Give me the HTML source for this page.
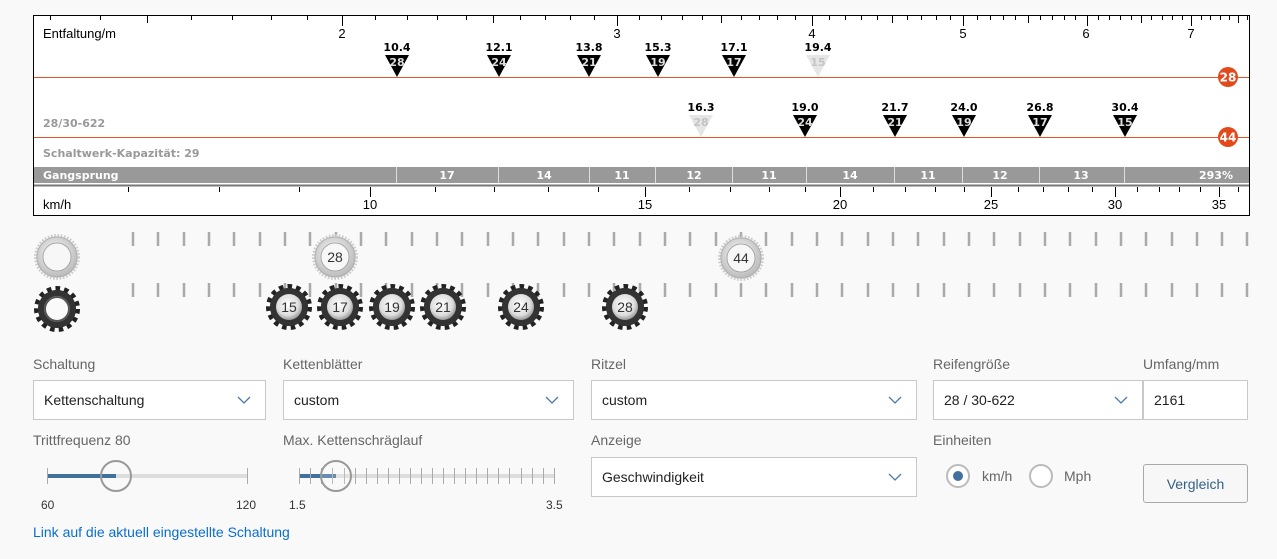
<!DOCTYPE html>
<html><head><meta charset="utf-8">
<style>
body{margin:0;background:#f9f9f9;width:1277px;height:559px;overflow:hidden;font-family:"Liberation Sans",sans-serif}
.a{position:absolute}
.lbl{position:absolute;font-size:14px;color:#666}
.sel{position:absolute;background:#fff;border:1px solid #c8c8c8;box-sizing:border-box;height:40px;font-size:14px;color:#222;line-height:38px;padding-left:10px}
.sel svg{position:absolute;right:14px;top:14px}
</style></head><body>
<svg class="a" style="left:0;top:0" width="1277" height="340" font-family="DejaVu Sans, sans-serif">
<defs>
<radialGradient id="gc" cx="45%" cy="40%" r="60%"><stop offset="0" stop-color="#fff"/><stop offset="0.7" stop-color="#ddd"/><stop offset="1" stop-color="#999"/></radialGradient>
<radialGradient id="gs" cx="45%" cy="40%" r="60%"><stop offset="0" stop-color="#fafafa"/><stop offset="1" stop-color="#bbb"/></radialGradient>
<g id="cog"><circle r="19" fill="#222" stroke="#222" stroke-width="8" stroke-dasharray="4.2 3.8"/><circle r="19" fill="#333"/><circle r="13" fill="url(#gc)"/></g>
<g id="ring"><circle r="21" fill="#ddd" stroke="#ccc" stroke-width="4" stroke-dasharray="1.6 1.6"/><circle r="20" fill="url(#gs)" stroke="#aaa" stroke-width="0.8"/><circle r="14" fill="#f7f7f7" stroke="#999" stroke-width="0.8"/></g>
<g id="tri"><path d="M-12 0 H12 L0 22Z"/></g>
</defs>
<rect x="33.5" y="15.5" width="1216" height="200" fill="#fff" stroke="#000"/>
<path stroke="#000" stroke-width="1" fill="none" d="M50.5 15v5M100.5 15v5M147.5 15v8M191.5 15v5M232.5 15v5M271.5 15v5M307.5 15v5M342.5 15v11M375.5 15v5M407.5 15v5M437.5 15v5M466.5 15v5M493.5 15v8M520.5 15v5M545.5 15v5M570.5 15v5M594.5 15v5M617.5 15v11M639.5 15v5M661.5 15v5M682.5 15v5M702.5 15v5M721.5 15v8M741.5 15v5M759.5 15v5M777.5 15v5M795.5 15v5M812.5 15v11M829.5 15v5M845.5 15v5M861.5 15v5M877.5 15v5M892.5 15v8M907.5 15v5M921.5 15v5M936.5 15v5M950.5 15v5M963.5 15v11M977.5 15v5M990.5 15v5M1003.5 15v5M1015.5 15v5M1028.5 15v8M1040.5 15v5M1052.5 15v5M1064.5 15v5M1075.5 15v5M1087.5 15v11M1098.5 15v5M1109.5 15v5M1120.5 15v5M1131.5 15v5M1141.5 15v8M1151.5 15v5M1162.5 15v5M1172.5 15v5M1182.5 15v5M1191.5 15v11M1201.5 15v5M1210.5 15v5M1220.5 15v5M1229.5 15v5M1238.5 15v8M1247.5 15v5"/>
<g font-family="Liberation Sans, sans-serif" font-size="13" fill="#000" text-anchor="middle">
<text x="43" y="38" text-anchor="start">Entfaltung/m</text>
<text x="342" y="38">2</text><text x="617" y="38">3</text><text x="812" y="38">4</text><text x="963" y="38">5</text><text x="1086" y="38">6</text><text x="1191" y="38">7</text>
</g>
<line x1="34" y1="77.5" x2="1249" y2="77.5" stroke="#e0552c"/>
<line x1="34" y1="137.5" x2="1249" y2="137.5" stroke="#e0552c"/>
<g font-size="11" font-weight="bold" text-anchor="middle">
<g fill="#000">
<text x="397" y="51">10.4</text><use href="#tri" x="397" y="55"/>
<text x="499" y="51">12.1</text><use href="#tri" x="499" y="55"/>
<text x="589" y="51">13.8</text><use href="#tri" x="589" y="55"/>
<text x="658" y="51">15.3</text><use href="#tri" x="658" y="55"/>
<text x="734" y="51">17.1</text><use href="#tri" x="734" y="55"/>
<text x="818" y="51">19.4</text>
<text x="701" y="111">16.3</text>
<text x="805" y="111">19.0</text><use href="#tri" x="805" y="115"/>
<text x="895" y="111">21.7</text><use href="#tri" x="895" y="115"/>
<text x="964" y="111">24.0</text><use href="#tri" x="964" y="115"/>
<text x="1040" y="111">26.8</text><use href="#tri" x="1040" y="115"/>
<text x="1125" y="111">30.4</text><use href="#tri" x="1125" y="115"/>
</g>
<g fill="#e6e6e6"><use href="#tri" x="818" y="55"/><use href="#tri" x="701" y="115"/></g>
<g fill="#ddd" font-size="11">
<text x="397" y="66">28</text><text x="499" y="66">24</text><text x="589" y="66">21</text><text x="658" y="66">19</text><text x="734" y="66">17</text>
<text x="805" y="126">24</text><text x="895" y="126">21</text><text x="964" y="126">19</text><text x="1040" y="126">17</text><text x="1125" y="126">15</text>
</g>
<g fill="#c4c4c4" font-size="11"><text x="818" y="66">15</text><text x="701" y="126">28</text></g>
</g>
<circle cx="1228" cy="77" r="10" fill="#e24a1c"/><text x="1228" y="81.5" fill="#fff" font-size="12" font-weight="bold" text-anchor="middle">28</text>
<circle cx="1228" cy="137" r="10" fill="#e24a1c"/><text x="1228" y="141.5" fill="#fff" font-size="12" font-weight="bold" text-anchor="middle">44</text>
<g fill="#999" font-size="11" font-weight="bold">
<text x="43" y="127">28/30-622</text>
<text x="43" y="157">Schaltwerk-Kapazität: 29</text>
</g>
<rect x="34" y="167" width="1215" height="16" fill="#999"/>
<line x1="34" y1="185.5" x2="1249" y2="185.5" stroke="#777" stroke-width="2"/>
<path stroke="#ddd" d="M396.5 167v16M498.5 167v16M589.5 167v16M655.5 167v16M732.5 167v16M806.5 167v16M894.5 167v16M962.5 167v16M1039.5 167v16M1124.5 167v16"/>
<g fill="#fff" font-size="11" font-weight="bold" text-anchor="middle">
<text x="43" y="179" text-anchor="start">Gangsprung</text>
<text x="447" y="179">17</text><text x="544" y="179">14</text><text x="622" y="179">11</text><text x="694" y="179">12</text><text x="769" y="179">11</text><text x="850" y="179">14</text><text x="928" y="179">11</text><text x="1000" y="179">12</text><text x="1081" y="179">13</text><text x="1216" y="179">293%</text>
</g>
<path stroke="#000" fill="none" d="M128.5 187v5M219.5 187v5M299.5 187v5M370.5 187v10M435.5 187v5M494.5 187v5M548.5 187v5M598.5 187v5M645.5 187v10M689.5 187v5M730.5 187v5M769.5 187v5M805.5 187v5M840.5 187v10M873.5 187v5M905.5 187v5M935.5 187v5M964.5 187v5M991.5 187v10M1018.5 187v5M1043.5 187v5M1068.5 187v5M1092.5 187v5M1115.5 187v10M1137.5 187v5M1159.5 187v5M1179.5 187v5M1200.5 187v5M1219.5 187v10M1238.5 187v5"/>
<g font-family="Liberation Sans, sans-serif" font-size="13" text-anchor="middle">
<text x="43" y="209" text-anchor="start">km/h</text>
<text x="370" y="209">10</text><text x="645" y="209">15</text><text x="840" y="209">20</text><text x="991" y="209">25</text><text x="1115" y="209">30</text><text x="1219" y="209">35</text>
</g>
<g stroke="#aaa" stroke-width="2.5">
<path d="M133 232v14M158 232v14M184 232v14M209 232v14M234 232v14M260 232v14M285 232v14M310 232v14M336 232v14M361 232v14M386 232v14M412 232v14M437 232v14M462 232v14M488 232v14M513 232v14M538 232v14M564 232v14M589 232v14M614 232v14M640 232v14M665 232v14M690 232v14M716 232v14M741 232v14M766 232v14M792 232v14M817 232v14M842 232v14M868 232v14M893 232v14M918 232v14M944 232v14M969 232v14M994 232v14M1020 232v14M1045 232v14M1070 232v14M1096 232v14M1121 232v14M1146 232v14M1172 232v14M1197 232v14M1222 232v14M1247 232v14"/>
<path d="M133 283v14M158 283v14M184 283v14M209 283v14M234 283v14M260 283v14M285 283v14M310 283v14M336 283v14M361 283v14M386 283v14M412 283v14M437 283v14M462 283v14M488 283v14M513 283v14M538 283v14M564 283v14M589 283v14M614 283v14M640 283v14M665 283v14M690 283v14M716 283v14M741 283v14M766 283v14M792 283v14M817 283v14M842 283v14M868 283v14M893 283v14M918 283v14M944 283v14M969 283v14M994 283v14M1020 283v14M1045 283v14M1070 283v14M1096 283v14M1121 283v14M1146 283v14M1172 283v14M1197 283v14M1222 283v14M1247 283v14"/>
</g>
<use href="#ring" x="57" y="257"/>
<use href="#ring" x="335" y="257"/>
<use href="#ring" x="741" y="258"/>
<use href="#cog" x="57" y="309"/><circle cx="57" cy="309" r="12" fill="#fafafa" stroke="#555" stroke-width="2"/>
<use href="#cog" x="289" y="307"/><use href="#cog" x="340" y="307"/><use href="#cog" x="392" y="307"/><use href="#cog" x="443" y="307"/><use href="#cog" x="521" y="307"/><use href="#cog" x="625" y="307"/>
<g font-family="Liberation Sans, sans-serif" font-size="14" fill="#333" text-anchor="middle">
<text x="335" y="262">28</text><text x="741" y="263">44</text>
<text x="289" y="312">15</text><text x="340" y="312">17</text><text x="392" y="312">19</text><text x="443" y="312">21</text><text x="521" y="312">24</text><text x="625" y="312">28</text>
</g>
</svg>

<div class="lbl" style="left:33px;top:356px">Schaltung</div>
<div class="lbl" style="left:283px;top:356px">Kettenblätter</div>
<div class="lbl" style="left:591px;top:356px">Ritzel</div>
<div class="lbl" style="left:933px;top:356px">Reifengröße</div>
<div class="lbl" style="left:1143px;top:356px">Umfang/mm</div>
<div class="sel" style="left:33px;top:380px;width:233px">Kettenschaltung<svg width="14" height="10"><path d="M1 2l6 6 6-6" fill="none" stroke="#4a7ab0" stroke-width="1.3"/></svg></div>
<div class="sel" style="left:283px;top:380px;width:291px">custom<svg width="14" height="10"><path d="M1 2l6 6 6-6" fill="none" stroke="#4a7ab0" stroke-width="1.3"/></svg></div>
<div class="sel" style="left:591px;top:380px;width:326px">custom<svg width="14" height="10"><path d="M1 2l6 6 6-6" fill="none" stroke="#4a7ab0" stroke-width="1.3"/></svg></div>
<div class="sel" style="left:933px;top:380px;width:210px">28 / 30-622<svg width="14" height="10"><path d="M1 2l6 6 6-6" fill="none" stroke="#4a7ab0" stroke-width="1.3"/></svg></div>
<div class="sel" style="left:1143px;top:380px;width:105px">2161</div>

<div class="lbl" style="left:33px;top:432px">Trittfrequenz 80</div>
<div class="lbl" style="left:283px;top:432px">Max. Kettenschräglauf</div>
<div class="lbl" style="left:591px;top:432px">Anzeige</div>
<div class="lbl" style="left:933px;top:432px">Einheiten</div>
<div class="sel" style="left:591px;top:457px;width:326px">Geschwindigkeit<svg width="14" height="10"><path d="M1 2l6 6 6-6" fill="none" stroke="#4a7ab0" stroke-width="1.3"/></svg></div>

<svg class="a" style="left:0;top:450px" width="930" height="70" font-family="Liberation Sans, sans-serif">
<rect x="47" y="24" width="200" height="4" fill="#ddd"/>
<rect x="47" y="24" width="69" height="4" fill="#41729f"/>
<path d="M47.5 18v16M247.5 18v16" stroke="#aaa"/>
<circle cx="116" cy="26" r="15" fill="none" stroke="#999" stroke-width="2"/>
<text x="41" y="59" font-size="12" fill="#333">60</text>
<text x="236" y="59" font-size="12" fill="#333">120</text>
<rect x="299" y="24" width="256" height="4" fill="#ddd"/>
<rect x="299" y="24" width="37" height="4" fill="#41729f"/>
<path stroke="#aaa" d="M299.5 18v16M310.5 18v16M321.5 18v16M332.5 18v16M344.5 18v16M355.5 18v16M366.5 18v16M377.5 18v16M388.5 18v16M399.5 18v16M410.5 18v16M421.5 18v16M432.5 18v16M443.5 18v16M454.5 18v16M465.5 18v16M476.5 18v16M487.5 18v16M498.5 18v16M509.5 18v16M521.5 18v16M532.5 18v16M543.5 18v16M554.5 18v16"/>
<circle cx="336" cy="26" r="15" fill="#f9f9f9" fill-opacity="0.2" stroke="#999" stroke-width="2"/>
<text x="289" y="59" font-size="12" fill="#333">1.5</text>
<text x="546" y="59" font-size="12" fill="#333">3.5</text>
</svg>

<svg class="a" style="left:940px;top:460px" width="170" height="35" font-family="Liberation Sans, sans-serif">
<circle cx="18" cy="16" r="11" fill="#fff" stroke="#bbb" stroke-width="2"/>
<circle cx="18" cy="16" r="5" fill="#41729f"/>
<text x="42" y="21" font-size="14" fill="#666">km/h</text>
<circle cx="101" cy="16" r="11" fill="#fff" stroke="#bbb" stroke-width="2"/>
<text x="124" y="21" font-size="14" fill="#666">Mph</text>
</svg>
<div class="a" style="left:1143px;top:464px;width:105px;height:39px;box-sizing:border-box;border:1px solid #aaa;border-radius:3px;background:#f7f7f7;color:#346187;font-size:14px;text-align:center;line-height:38px">Vergleich</div>
<div class="a" style="left:33px;top:524px;font-size:14px;color:#0a6ed1">Link auf die aktuell eingestellte Schaltung</div>
</body></html>
